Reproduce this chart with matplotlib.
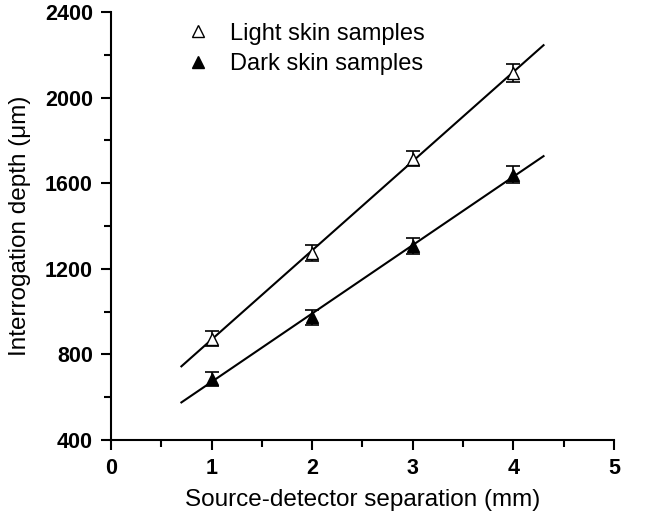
import numpy as np
import matplotlib
matplotlib.use('Agg')
import matplotlib.pyplot as plt
from matplotlib.ticker import MultipleLocator

plt.rcParams['font.family'] = ['Liberation Sans', 'DejaVu Sans']

# separation (mm) and interrogation depth (um)
sep = [1, 2, 3, 4]
light_depth = [872, 1275, 1715, 2115]
light_err = [35, 38, 35, 40]
dark_depth = [685, 973, 1305, 1640]
dark_err = [32, 35, 38, 38]
fit_range = [0.7, 4.3]

fig = plt.figure(figsize=(6.49, 5.2), dpi=100)
ax = fig.add_axes([0.171, 0.154, 0.775, 0.823])

xfit = np.array(fit_range)
for depth in (light_depth, dark_depth):
    p = np.polyfit(sep, depth, 1)
    ax.plot(xfit, np.polyval(p, xfit), color='black', lw=1.5, zorder=1)

ax.errorbar(sep, light_depth, yerr=light_err, fmt='none', ecolor='black',
            elinewidth=1.2, capsize=5, capthick=1.2, zorder=2)
ax.errorbar(sep, dark_depth, yerr=dark_err, fmt='none', ecolor='black',
            elinewidth=1.2, capsize=5, capthick=1.2, zorder=2)
ax.plot(sep, light_depth, linestyle='none', marker='^', ms=9, mfc='white',
        mec='black', mew=1.0, label='Light skin samples', zorder=3)
ax.plot(sep, dark_depth, linestyle='none', marker='^', ms=9, mfc='black',
        mec='black', label='Dark skin samples', zorder=3)

ax.set_xlim(0, 5)
ax.set_ylim(400, 2400)
ax.xaxis.set_major_locator(MultipleLocator(1))
ax.xaxis.set_minor_locator(MultipleLocator(0.5))
ax.yaxis.set_major_locator(MultipleLocator(400))
ax.yaxis.set_minor_locator(MultipleLocator(200))
ax.spines['top'].set_visible(False)
ax.spines['right'].set_visible(False)
for s in ('left', 'bottom'):
    ax.spines[s].set_linewidth(1.5)
ax.tick_params(which='major', direction='out', length=7, width=1.5, pad=6)
ax.tick_params(which='minor', direction='out', length=5, width=1.5)
for lab in ax.get_xticklabels() + ax.get_yticklabels():
    lab.set_fontweight('bold')
    lab.set_fontsize(15.5)

ax.set_xlabel('Source-detector separation (mm)', fontsize=17.5, labelpad=7)
ax.set_ylabel('Interrogation depth (\u03bcm)', fontsize=17.5, labelpad=10)

ax.legend(loc='upper left', bbox_to_anchor=(0.095, 1.025), frameon=False,
          fontsize=17, handletextpad=0.6, labelspacing=0.35, handlelength=1.5)

fig.savefig('out.png', dpi=100)
